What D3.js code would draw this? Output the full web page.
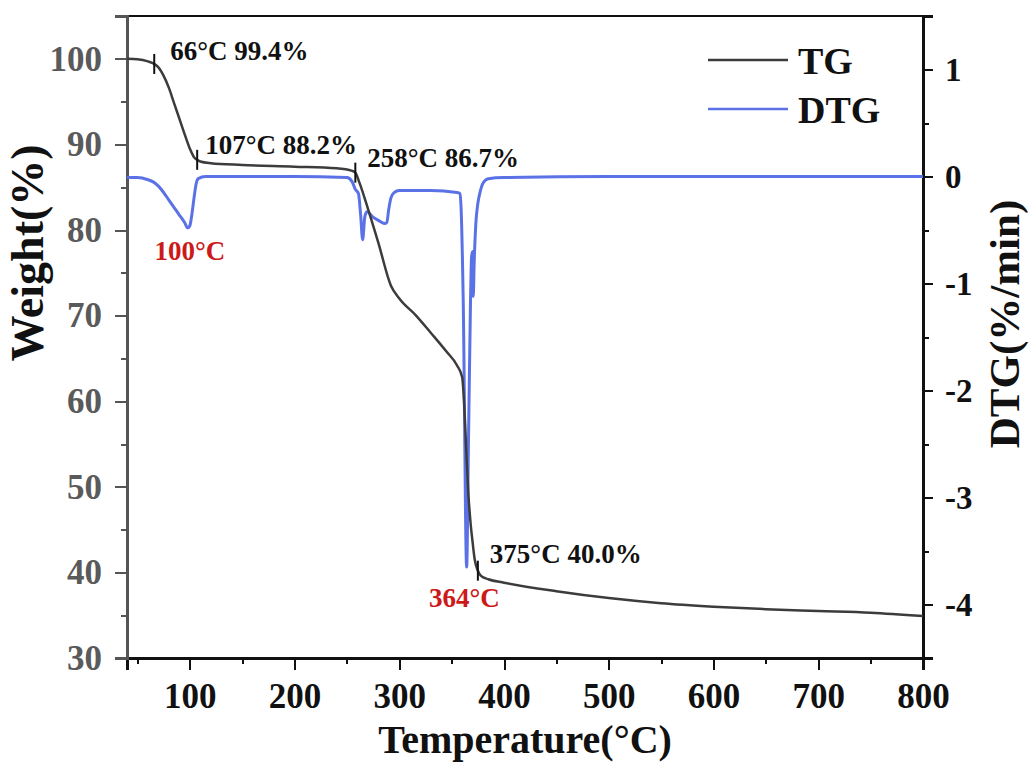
<!DOCTYPE html>
<html lang="en">
	<head>
		<meta charset="utf-8">
		<title>TG / DTG</title>
		<script type="text/javascript" src="https://cdn.jsdelivr.net/npm/d3@7"></script>
		<style type="text/css">
			body { margin: 0; background: #fff; }
			text { font-family: "Liberation Serif", "Times New Roman", serif; font-weight: bold; }
			.axis path, .axis line { shape-rendering: crispEdges; }
		</style>
	</head>
	<body>
		<script type="text/javascript">

			// TG curve: temperature (°C) and weight (%)
			var tgTemp   = [40, 50, 60, 66, 70, 75, 80, 85, 90, 95, 100, 104, 107, 110, 120, 150, 200, 240, 255, 258, 262, 270, 280, 292, 300, 316, 330, 345, 355, 360, 362, 364, 366, 368, 370, 372, 375, 378, 385, 400, 450, 500, 550, 600, 650, 700, 750, 800];
			var tgWeight = [100, 99.95, 99.7, 99.4, 99.0, 98.0, 96.6, 94.8, 93.0, 91.2, 89.5, 88.5, 88.2, 88.0, 87.8, 87.6, 87.4, 87.2, 86.9, 86.7, 85.5, 82.5, 78.5, 73.5, 72.0, 70.0, 68.0, 65.8, 64.2, 62.8, 59.5, 54.0, 49.0, 45.8, 43.5, 41.5, 40.2, 39.6, 39.2, 38.8, 37.8, 37.0, 36.4, 36.0, 35.7, 35.5, 35.3, 34.9];

			// DTG curve: temperature (°C) and rate (%/min)
			var dtgTemp  = [40, 50, 60, 65, 70, 75, 80, 85, 90, 95, 98, 100, 102, 104, 106, 108, 115, 150, 200, 250, 255, 258, 261, 263, 265, 267, 269, 275, 280, 286, 288, 290, 292, 295, 300, 330, 355, 358, 359, 361, 364.3, 366, 368, 369, 370, 370.6, 371.5, 373, 375, 377, 380, 385, 400, 500, 600, 700, 800];
			var dtgRate  = [-0.01, -0.01, -0.03, -0.05, -0.09, -0.15, -0.22, -0.29, -0.36, -0.43, -0.48, -0.46, -0.35, -0.2, -0.07, -0.02, 0, 0, 0, -0.01, -0.05, -0.12, -0.16, -0.35, -0.59, -0.38, -0.33, -0.38, -0.41, -0.44, -0.43, -0.3, -0.2, -0.15, -0.13, -0.13, -0.15, -0.16, -0.3, -1.15, -3.65, -2.5, -1.15, -0.75, -0.7, -1.12, -0.8, -0.45, -0.25, -0.15, -0.06, -0.02, -0.01, 0, 0, 0, 0];

			// marked points on TG
			var markTemp   = [66, 107, 258, 375];
			var markWeight = [99.4, 88.2, 86.7, 40.2];
			var markLabels = ["66°C 99.4%", "107°C 88.2%", "258°C 86.7%", "375°C 40.0%"];

			// DTG peak labels
			var peakTemp   = [100, 364];
			var peakLabels = ["100°C", "364°C"];

			var xTicks     = [100, 200, 300, 400, 500, 600, 700, 800];
			var xMinor     = [50, 150, 250, 350, 450, 550, 650, 750];
			var yLeftTicks = [30, 40, 50, 60, 70, 80, 90, 100];
			var yLeftMinor = [35, 45, 55, 65, 75, 85, 95];
			var yRightTicks = [-4, -3, -2, -1, 0, 1];
			var yRightMinor = [-3.5, -2.5, -1.5, -0.5, 0.5];

			var w = 1032, h = 763;
			var margin = {top: 16, left: 127, right: 109, bottom: 105};
			var W = w - margin.left - margin.right;
			var H = h - margin.top - margin.bottom;

			var svg = d3.select("body").append("svg")
				.attr("width", w)
				.attr("height", h);

			var g = svg.append("g")
				.attr("transform", "translate(" + margin.left + "," + margin.top + ")");

			var x  = d3.scaleLinear().domain([40, 800]).range([0, W]);
			var yL = d3.scaleLinear().domain([30, 105]).range([H, 0]);
			var yR = d3.scaleLinear().domain([-4.5, 1.5]).range([H, 0]);

			// frame top line
			g.append("line")
				.attr("x1", 0).attr("x2", W).attr("y1", 0).attr("y2", 0)
				.attr("stroke", "#111").attr("stroke-width", 2);

			// bottom axis
			var bx = g.append("g").attr("class", "axis").attr("transform", "translate(0," + H + ")");
			bx.call(d3.axisBottom(x).tickValues(xTicks).tickSize(12).tickPadding(13));
			bx.append("g").call(d3.axisBottom(x).tickValues(xMinor).tickSize(6).tickFormat(""));
			bx.selectAll("path.domain").attr("stroke", "#111").attr("stroke-width", 2.5);
			bx.selectAll("line").attr("stroke", "#111").attr("stroke-width", 2);
			bx.selectAll("text").attr("font-size", 35).attr("fill", "#111")
				.style("font-family", "'Liberation Serif', serif").style("font-weight", "bold");

			// left axis (grey)
			var lx = g.append("g").attr("class", "axis");
			lx.call(d3.axisLeft(yL).tickValues(yLeftTicks).tickSize(12).tickPadding(13));
			lx.append("g").call(d3.axisLeft(yL).tickValues(yLeftMinor).tickSize(6).tickFormat(""));
			lx.selectAll("path.domain").attr("stroke", "#555").attr("stroke-width", 2.5);
			lx.selectAll("line").attr("stroke", "#555").attr("stroke-width", 2);
			lx.selectAll("text").attr("font-size", 35).attr("fill", "#5a5a5a")
				.style("font-family", "'Liberation Serif', serif").style("font-weight", "bold");

			// right axis
			var rx = g.append("g").attr("class", "axis").attr("transform", "translate(" + W + ",0)");
			rx.call(d3.axisRight(yR).tickValues(yRightTicks).tickSize(10).tickPadding(12)
				.tickFormat(function(d){ return d < 0 ? "-" + Math.abs(d) : d; }));
			rx.append("g").call(d3.axisRight(yR).tickValues(yRightMinor).tickSize(6).tickFormat(""));
			rx.selectAll("path.domain").attr("stroke", "#111").attr("stroke-width", 2.5);
			rx.selectAll("line").attr("stroke", "#111").attr("stroke-width", 2);
			rx.selectAll("text").attr("font-size", 33).attr("fill", "#111")
				.style("font-family", "'Liberation Serif', serif").style("font-weight", "bold");

			// curves
			var tgData  = tgTemp.map(function(t, i){ return [t, tgWeight[i]]; });
			var dtgData = dtgTemp.map(function(t, i){ return [t, dtgRate[i]]; });

			g.append("path")
				.datum(dtgData)
				.attr("fill", "none")
				.attr("stroke", "#5b72e6")
				.attr("stroke-width", 3)
				.attr("stroke-linejoin", "round")
				.attr("d", d3.line()
					.x(function(d){ return x(d[0]); })
					.y(function(d){ return yR(d[1]); })
					.curve(d3.curveMonotoneX));

			g.append("path")
				.datum(tgData)
				.attr("fill", "none")
				.attr("stroke", "#3c3c3c")
				.attr("stroke-width", 2.5)
				.attr("d", d3.line()
					.x(function(d){ return x(d[0]); })
					.y(function(d){ return yL(d[1]); })
					.curve(d3.curveMonotoneX));

			// marks on TG
			var markDx = [16, 8, 12, 12];
			var markDy = [-4, -6, -6, -8];
			markTemp.forEach(function(t, i){
				g.append("line")
					.attr("x1", x(t)).attr("x2", x(t))
					.attr("y1", yL(markWeight[i]) - 10).attr("y2", yL(markWeight[i]) + 10)
					.attr("stroke", "#111").attr("stroke-width", 2);
				g.append("text")
					.attr("x", x(t) + markDx[i])
					.attr("y", yL(markWeight[i]) + markDy[i])
					.attr("font-size", 27)
					.attr("fill", "#111")
					.text(markLabels[i]);
			});

			// DTG peak labels
			var peakY = [-0.78, -4.02];
			peakTemp.forEach(function(t, i){
				g.append("text")
					.attr("x", x(t) - (i ? 2 : 0))
					.attr("y", yR(peakY[i]))
					.attr("text-anchor", "middle")
					.attr("font-size", 27)
					.attr("fill", "#cc1a1a")
					.text(peakLabels[i]);
			});

			// legend
			var legend = svg.append("g").attr("transform", "translate(708,60)");
			var legNames = ["TG", "DTG"];
			var legColors = ["#3c3c3c", "#5b72e6"];
			legNames.forEach(function(n, i){
				legend.append("line")
					.attr("x1", 0).attr("x2", 80)
					.attr("y1", i * 49).attr("y2", i * 49)
					.attr("stroke", legColors[i]).attr("stroke-width", 2.5);
				legend.append("text")
					.attr("x", 90).attr("y", i * 49 + 14)
					.attr("font-size", 38).attr("fill", "#111")
					.text(n);
			});

			// axis titles
			svg.append("text")
				.attr("x", margin.left + W / 2).attr("y", 753)
				.attr("text-anchor", "middle")
				.attr("font-size", 40).attr("fill", "#111")
				.text("Temperature(°C)");

			svg.append("text")
				.attr("transform", "translate(43,253) rotate(-90)")
				.attr("text-anchor", "middle")
				.attr("font-size", 46).attr("fill", "#111")
				.text("Weight(%)");

			svg.append("text")
				.attr("transform", "translate(1019,324) rotate(-90)")
				.attr("text-anchor", "middle")
				.attr("font-size", 43).attr("fill", "#111")
				.text("DTG(%/min)");

		</script>
	</body>
</html>
